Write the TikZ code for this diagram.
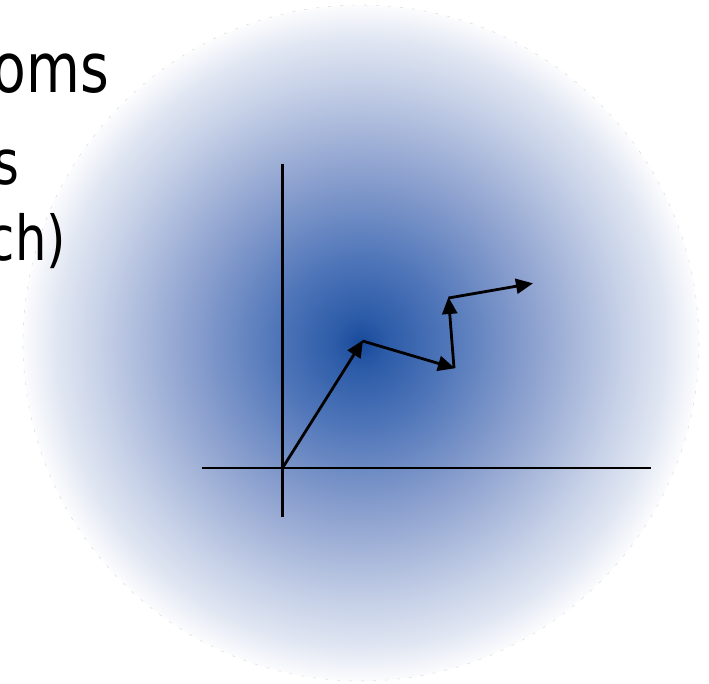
\documentclass[tikz,border=0pt]{standalone}
\usepackage{fontspec}
\setmainfont{DejaVu Sans}
\usetikzlibrary{arrows.meta}
\definecolor{g0}{RGB}{24,74,156}
\definecolor{g1}{RGB}{45,92,168}
\definecolor{g2}{RGB}{77,116,184}
\definecolor{g3}{RGB}{143,163,208}
\definecolor{g4}{RGB}{200,210,232}
\definecolor{g5}{RGB}{224,230,242}
\definecolor{g6}{RGB}{252,252,254}
\pgfdeclareradialshading{discshade}{\pgfpoint{0bp}{0bp}}{%
  color(0bp)=(g0); color(2bp)=(g1); color(6bp)=(g2); color(13bp)=(g3);
  color(19.5bp)=(g4); color(22.5bp)=(g5); color(25bp)=(g6); color(50bp)=(white)}
\tikzset{
  axisline/.style={line width=2.8pt, black},
  vec/.style={line width=2.8pt, black, -{Triangle[length=17pt,width=15pt]}, shorten >=-1pt},
  bigtxt/.style={inner sep=0pt, anchor=base east, font=\addfontfeature{FakeStretch=0.8}\fontsize{69}{80}\selectfont},
  smalltxt/.style={inner sep=0pt, anchor=base east, font=\addfontfeature{FakeStretch=0.8}\fontsize{62}{72}\selectfont},
}
\begin{document}
\begin{tikzpicture}[x=1pt,y=-1pt]
\useasboundingbox (0,0) rectangle (709,684);
% disc
\shade[shading=discshade] (361,343) circle (338);
\draw[black!12, line width=0.6pt, dash pattern=on 3pt off 9pt] (361,343) circle (338);
% text
\node[bigtxt] (t1) at (109,93) {oms};
\node[smalltxt] (t2) at (20,185) {s};
\node[smalltxt] (t3) at (66,261) {ch)};
% axes
\coordinate (xl) at (202,468);
\coordinate (xr) at (651,468);
\coordinate (yt) at (282.5,164);
\coordinate (yb) at (282.5,517);
\draw[axisline] (xl) -- (xr);
\draw[axisline] (yt) -- (yb);
% vectors
\coordinate (O) at (282.5,468);
\coordinate (A) at (362.5,341);
\coordinate (B) at (454,368);
\coordinate (C) at (448.5,298);
\coordinate (D) at (532,283.5);
\draw[vec] (O) -- (A);
\draw[vec] (A) -- (B);
\draw[vec] (B) -- (C);
\draw[vec] (C) -- (D);
\end{tikzpicture}
\end{document}
